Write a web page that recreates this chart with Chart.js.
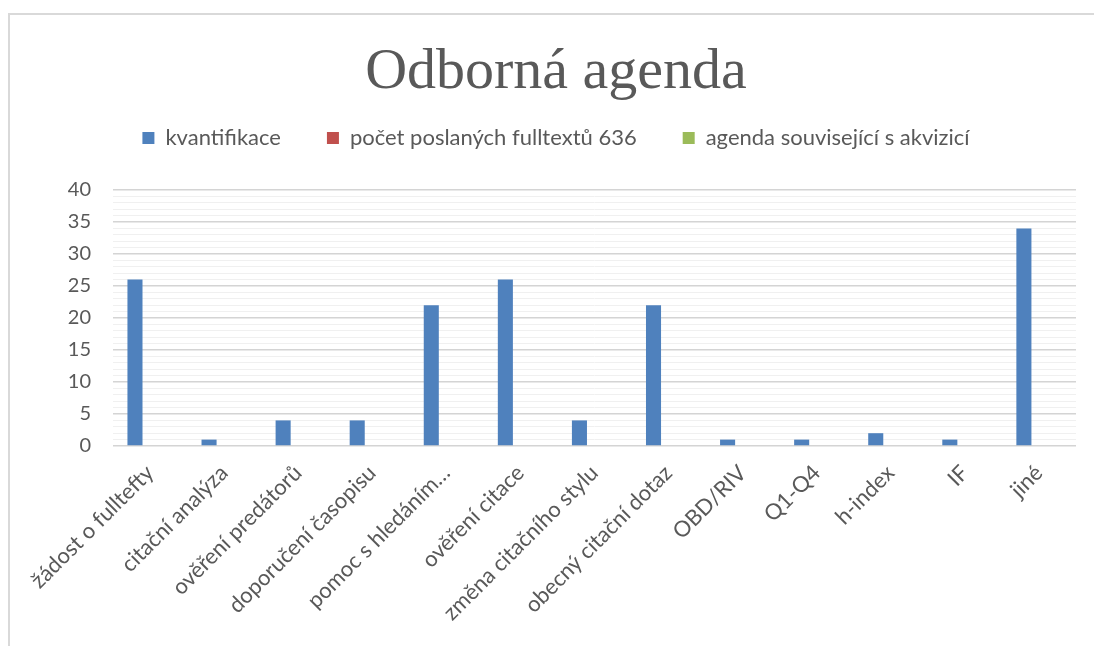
<!DOCTYPE html>
<html>
<head>
<meta charset="utf-8">
<script src="https://cdn.jsdelivr.net/npm/chart.js@4"></script>
<style>
  html, body { margin: 0; padding: 0; background: #fff; overflow: hidden; }
  #frame { position: absolute; left: 8px; top: 13px; width: 1100px; height: 700px;
           border-left: 2px solid #d9d9d9; border-top: 2px solid #d9d9d9; }
  #wrap { position: absolute; left: 0; top: 0; width: 1130px; height: 646px; }
</style>
</head>
<body>
<div id="frame"></div>
<div id="wrap"><canvas id="graf"></canvas></div>
<script>
// kategorie dotazů
var kategorie = ['žádost o fulltefty', 'citační analýza', 'ověření predátorů', 'doporučení časopisu',
    'pomoc s hledáním…', 'ověření citace', 'změna citačního stylu', 'obecný citační dotaz',
    'OBD/RIV', 'Q1-Q4', 'h-index', 'IF', 'jiné'];

// hodnoty serií
var kvantifikace = [26, 1, 4, 4, 22, 26, 4, 22, 1, 1, 2, 1, 34];
var poslaneFulltexty = [null, null, null, null, null, null, null, null, null, null, null, null, null];
var akvizice = [null, null, null, null, null, null, null, null, null, null, null, null, null];

var nazvySerii = ['kvantifikace', 'počet poslaných fulltextů 636', 'agenda související s akvizicí'];
var osaY = { min: 0, max: 40, krok: 1, hlavniKrok: 5 };

var sediva = '#595959';

var ctx = document.getElementById('graf').getContext('2d');
var graf = new Chart(ctx, {
    type: 'bar',
    data: {
        labels: kategorie,
        datasets: [{
            label: nazvySerii[0],
            data: kvantifikace,
            backgroundColor: '#4f81bd'
        }, {
            label: nazvySerii[1],
            data: poslaneFulltexty,
            backgroundColor: '#c0504d'
        }, {
            label: nazvySerii[2],
            data: akvizice,
            backgroundColor: '#9bbb59'
        }]
    },
    options: {
        responsive: true,
        maintainAspectRatio: false,
        animation: false,
        categoryPercentage: 0.61,
        barPercentage: 1.0,
        layout: { padding: { left: 36, right: 54, top: 0, bottom: 0 } },
        plugins: {
            title: {
                display: true,
                text: 'Odborná agenda',
                color: sediva,
                font: { family: 'Liberation Serif', size: 58, weight: 'normal', lineHeight: 1 },
                padding: { top: 44, bottom: -21 }
            },
            // prázdný podtitulek jen jako mezera mezi legendou a grafem
            subtitle: {
                display: true,
                text: '',
                weight: 500,
                font: { size: 1, lineHeight: 1 },
                padding: { top: 30, bottom: 0 }
            },
            legend: {
                position: 'top',
                labels: {
                    color: sediva,
                    font: { family: 'Lato', size: 22 },
                    boxWidth: 12,
                    boxHeight: 12,
                    padding: 46
                }
            },
            tooltip: { enabled: false }
        },
        scales: {
            x: {
                grid: { display: false },
                border: { display: false },
                ticks: {
                    color: sediva,
                    font: { family: 'Lato', size: 22 },
                    minRotation: 45,
                    maxRotation: 45,
                    autoSkip: false,
                    padding: 6
                },
                afterFit: function(scale) { scale.height = 200; }
            },
            y: {
                min: osaY.min,
                max: osaY.max,
                border: { display: false },
                grid: {
                    drawTicks: false,
                    color: function(c) {
                        return c.tick.value % osaY.hlavniKrok === 0 ? '#d4d4d4' : '#f0f0f0';
                    },
                    lineWidth: function(c) {
                        return c.tick.value % osaY.hlavniKrok === 0 ? 1.5 : 1;
                    }
                },
                ticks: {
                    stepSize: osaY.krok,
                    autoSkip: false,
                    color: sediva,
                    font: { family: 'Lato', size: 20 },
                    padding: 22,
                    callback: function(v) { return v % osaY.hlavniKrok === 0 ? v : ''; }
                },
                afterFit: function(scale) { scale.width = 77; }
            }
        }
    }
});
</script>
</body>
</html>
